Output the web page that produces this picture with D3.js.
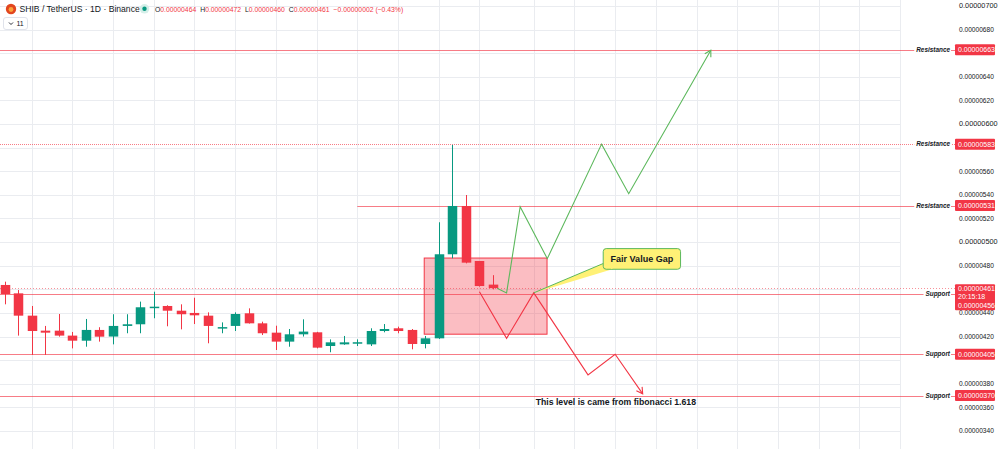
<!DOCTYPE html>
<html><head><meta charset="utf-8">
<script src="https://cdn.jsdelivr.net/npm/d3@7"></script>
<style>body{margin:0;background:#fff;overflow:hidden}svg{display:block}</style>
</head><body><svg id="c" width="1000" height="449"></svg>
<script>
// values in micro units (x 1e-6)
const UNIT = 1e-6;
const candleOpen  = [4.637,4.566,4.377,4.250,4.250,4.208,4.165,4.256,4.200,4.290,4.304,4.448,4.459,4.419,4.400,4.377,4.275,4.290,4.397,4.312,4.233,4.157,4.219,4.236,4.120,4.134,4.148,4.134,4.247,4.270,4.256,4.137,4.185,4.897,5.306,4.840,4.640];
const candleHigh  = [4.665,4.594,4.459,4.290,4.391,4.239,4.349,4.279,4.389,4.389,4.496,4.580,4.465,4.473,4.529,4.405,4.320,4.405,4.439,4.326,4.292,4.264,4.346,4.240,4.176,4.205,4.176,4.270,4.306,4.284,4.264,4.205,5.168,5.823,5.399,4.840,4.720];
const candleLow   = [4.473,4.208,4.044,4.044,4.199,4.100,4.114,4.157,4.134,4.228,4.228,4.355,4.287,4.261,4.306,4.143,4.228,4.247,4.310,4.213,4.086,4.114,4.200,4.100,4.067,4.130,4.120,4.120,4.236,4.228,4.092,4.100,4.180,4.863,4.820,4.623,4.600];
const candleClose = [4.560,4.377,4.247,4.233,4.208,4.165,4.256,4.199,4.290,4.304,4.448,4.453,4.419,4.389,4.380,4.290,4.280,4.391,4.312,4.228,4.157,4.219,4.242,4.106,4.151,4.151,4.152,4.247,4.264,4.247,4.137,4.185,4.897,5.306,4.826,4.628,4.610];

const yTicks = [3.4,3.6,3.8,4.0,4.2,4.4,4.6,4.8,5.0,5.2,5.4,5.6,5.8,6.0,6.2,6.4,6.6,6.8,7.0];
const gridIndex = [2,5,8,11,14,17,20,23,26,29,32,35,39,42,45,48,51,54,57,60,63,66];

const levelValues = [6.63,5.83,5.31,4.56,4.05,3.70];
const levelNames  = ["Resistance","Resistance","Resistance","Support","Support","Support"];
const levelStartIndex = [-1,-1,26,-1,-1,-1];
const levelDotted = [false,true,false,false,false,false];

const currentPrice = 4.61;
const countdownText = "20:15:18";

const bullPathIndex = [36.3,37,38,40,44,46,52.05];
const bullPathValue = [4.61,4.57,5.30,4.86,5.83,5.41,6.625];
const bearPathIndex = [35,37,39,43,45,47.03];
const bearPathValue = [4.58,4.185,4.57,3.875,4.05,3.715];

const gapIndex = [30.93,39.98];
const gapValue = [4.22,4.865];

const calloutText = "Fair Value Gap";
const calloutAnchor = [39,4.57];
const calloutIndex = [44.12,49.82];
const calloutValue = [4.945,4.77];

const noteText = "This level is came from fibonacci 1.618";
const noteAt = [45.05,3.62];

const headerTitle = "SHIB / TetherUS · 1D · Binance";
const headerOHLC = [["O","0.00000464"],["H","0.00000472"],["L","0.00000460"],["C","0.00000461"]];
const headerChange = "−0.00000002 (−0.43%)";

const GREEN = "#089981", RED = "#f23645";
const fmt = v => (v*UNIT).toFixed(8);
const F = "Liberation Sans, Arial, sans-serif";

const svg = d3.select("#c");
const x = d3.scaleLinear().domain([0,66]).range([4.5, 4.5+66*13.57]);
const y = d3.scaleLinear().domain([3.4,7.0]).range([431,6]);
const PLOT_R = 900;

// grid
const g = svg.append("g");
g.selectAll("line.h").data(yTicks).join("line")
  .attr("x1",0).attr("x2",PLOT_R).attr("y1",d=>Math.round(y(d))+0.5).attr("y2",d=>Math.round(y(d))+0.5)
  .attr("stroke","#eaecf0").attr("stroke-width",1);
g.selectAll("line.v").data(gridIndex).join("line")
  .attr("x1",d=>Math.round(x(d))+0.5).attr("x2",d=>Math.round(x(d))+0.5).attr("y1",0).attr("y2",449)
  .attr("stroke","#eaecf0").attr("stroke-width",1);

// y axis labels (those hidden behind price tags are skipped)
const tagValues = levelValues.concat([currentPrice]);
const visibleTicks = yTicks.filter(t => !tagValues.some(v => Math.abs(y(v)-y(t)) < 8.5));
svg.append("g").selectAll("text").data(visibleTicks).join("text")
  .attr("x",959).attr("y",d=>y(d)+2.3)
  .attr("font-family",F)
  .attr("font-size",d=>Math.abs(Math.round(d)-d)<0.01 ? 7.3 : 6.6)
  .attr("fill","#131722").text(d=>fmt(d));

// fair value gap box
svg.append("rect")
  .attr("x",x(gapIndex[0])).attr("y",y(gapValue[1]))
  .attr("width",x(gapIndex[1])-x(gapIndex[0])).attr("height",y(gapValue[0])-y(gapValue[1]))
  .attr("fill","rgba(242,54,69,0.33)").attr("stroke",RED).attr("stroke-width",1);

// levels
const lv = svg.append("g");
levelValues.forEach((v,i)=>{
  const yy = Math.round(y(v))+0.5;
  lv.append("line").attr("x1",levelStartIndex[i]<0?0:x(levelStartIndex[i])).attr("x2",955)
    .attr("y1",yy).attr("y2",yy).attr("stroke",RED).attr("stroke-opacity",0.65).attr("stroke-width",1)
    .attr("stroke-dasharray",levelDotted[i]?"1,1":null);
});
{
  const yy = Math.round(y(currentPrice))+0.5;
  lv.append("line").attr("x1",0).attr("x2",955).attr("y1",yy).attr("y2",yy)
    .attr("stroke",RED).attr("stroke-opacity",0.55).attr("stroke-dasharray","1,2");
}

// candles
const cw = 9.5;
const cd = d3.range(candleOpen.length);
const cg = svg.append("g");
cg.selectAll("line").data(cd).join("line")
  .attr("x1",i=>Math.round(x(i))+0.5).attr("x2",i=>Math.round(x(i))+0.5)
  .attr("y1",i=>y(candleHigh[i])).attr("y2",i=>y(candleLow[i]))
  .attr("stroke",i=>candleClose[i]>=candleOpen[i]?GREEN:RED).attr("stroke-width",1);
cg.selectAll("rect").data(cd).join("rect")
  .attr("x",i=>Math.round(x(i))+0.5-cw/2).attr("width",cw)
  .attr("y",i=>y(Math.max(candleOpen[i],candleClose[i])))
  .attr("height",i=>Math.max(1.5,Math.abs(y(candleOpen[i])-y(candleClose[i]))))
  .attr("fill",i=>candleClose[i]>=candleOpen[i]?GREEN:RED);

// paths with arrows
function drawPath(idx, val, color){
  const pts = idx.map((d,i)=>[x(d),y(val[i])]);
  svg.append("path").attr("d",d3.line()(pts)).attr("fill","none").attr("stroke",color).attr("stroke-width",1.1);
  const a = pts[pts.length-1], b = pts[pts.length-2];
  const ang = Math.atan2(a[1]-b[1], a[0]-b[0]);
  const L = 7, s = Math.PI/6;
  const p1 = [a[0]-L*Math.cos(ang-s), a[1]-L*Math.sin(ang-s)];
  const p2 = [a[0]-L*Math.cos(ang+s), a[1]-L*Math.sin(ang+s)];
  svg.append("path").attr("d",d3.line()([p1,a,p2])).attr("fill","none").attr("stroke",color).attr("stroke-width",1.1);
}
drawPath(bullPathIndex, bullPathValue, "#5cb85c");
drawPath(bearPathIndex, bearPathValue, RED);

// callout
{
  const bx = x(calloutIndex[0]), bw = x(calloutIndex[1])-bx;
  const by = y(calloutValue[0]), bh = y(calloutValue[1])-by;
  const ax = x(calloutAnchor[0]), ay = y(calloutAnchor[1]);
  svg.append("path").attr("d",d3.line()([[ax,ay],[bx+3,by+bh-7],[bx+9,by+bh]]))
    .attr("fill","#fff176").attr("stroke","#5cb85c").attr("stroke-width",1).attr("stroke-linejoin","round");
  svg.append("rect").attr("x",bx).attr("y",by).attr("width",bw).attr("height",bh).attr("rx",3)
    .attr("fill","#fff176").attr("stroke","#5cb85c").attr("stroke-width",1);
  svg.append("path").attr("d",d3.line()([[bx+3.5,by+bh-7.5],[bx+9,by+bh-0.5]]))
    .attr("stroke","#fff176").attr("stroke-width",1.5);
  svg.append("text").attr("x",bx+bw/2).attr("y",by+bh/2+3.2).attr("text-anchor","middle")
    .attr("font-family",F).attr("font-weight","bold").attr("font-size",9)
    .attr("fill","#131722").text(calloutText);
}

// fib note
svg.append("text").attr("x",x(noteAt[0])).attr("y",y(noteAt[1])).attr("text-anchor","middle")
  .attr("font-family",F).attr("font-weight","bold").attr("font-size",8.7)
  .attr("fill","#131722").text(noteText);

// level names + tags
levelValues.forEach((v,i)=>{
  const yy = y(v);
  const t = svg.append("text").attr("x",950).attr("y",yy+2.2).attr("text-anchor","end")
    .attr("font-family",F).attr("font-style","italic").attr("font-weight","bold")
    .attr("font-size",6.4).attr("fill","#131722").text(levelNames[i]);
  const w = t.node().getComputedTextLength();
  svg.insert("rect", () => t.node()).attr("x",950-w-2).attr("y",yy-4).attr("width",w+3).attr("height",8).attr("fill","#fff");
  if(i===3) return;
  svg.append("rect").attr("x",955).attr("y",yy-5.5).attr("width",40).attr("height",11).attr("rx",1).attr("fill",RED);
  svg.append("text").attr("x",958).attr("y",yy+2.4).attr("font-family",F)
    .attr("font-size",7).attr("fill","#fff").text(fmt(v));
});
// current price + countdown + support tag block
{
  const yt = y(currentPrice);
  svg.append("rect").attr("x",955).attr("y",yt-4).attr("width",40).attr("height",26).attr("rx",1).attr("fill",RED);
  const tt = [fmt(currentPrice), countdownText, fmt(levelValues[3])];
  tt.forEach((s,k)=>svg.append("text").attr("x",958).attr("y",yt+3+k*8.3)
    .attr("font-family",F).attr("font-size",7).attr("fill","#fff").text(s));
}

// header
{
  svg.append("circle").attr("cx",11).attr("cy",9).attr("r",5.2).attr("fill","#e2461f");
  svg.append("circle").attr("cx",11).attr("cy",9.5).attr("r",2.4).attr("fill","#f9a23b");
  svg.append("text").attr("x",19.5).attr("y",12.2).attr("font-family",F).attr("font-size",8.6).attr("fill","#131722").text(headerTitle);
  svg.append("circle").attr("cx",144.5).attr("cy",8.8).attr("r",4.8).attr("fill","#d5efe9");
  svg.append("circle").attr("cx",144.5).attr("cy",8.8).attr("r",2.2).attr("fill",GREEN);
  const ht = svg.append("text").attr("x",155).attr("y",12).attr("font-family",F).attr("font-size",6.8);
  headerOHLC.forEach(([k,v],i)=>{
    ht.append("tspan").attr("fill","#131722").attr("dx",i?4:0).text(k);
    ht.append("tspan").attr("fill",RED).text(v);
  });
  ht.append("tspan").attr("fill",RED).attr("dx",4).text(headerChange);
  svg.append("rect").attr("x",3.5).attr("y",17.5).attr("width",24).attr("height",12).attr("rx",2.5)
    .attr("fill","#fff").attr("stroke","#e0e3eb");
  svg.append("path").attr("d","M9,22.5 L11,24.5 L13,22.5").attr("fill","none").attr("stroke","#131722").attr("stroke-width",0.9);
  svg.append("text").attr("x",16.5).attr("y",26).attr("font-family",F).attr("font-size",7).attr("fill","#131722").text("11");
}
</script></body></html>
